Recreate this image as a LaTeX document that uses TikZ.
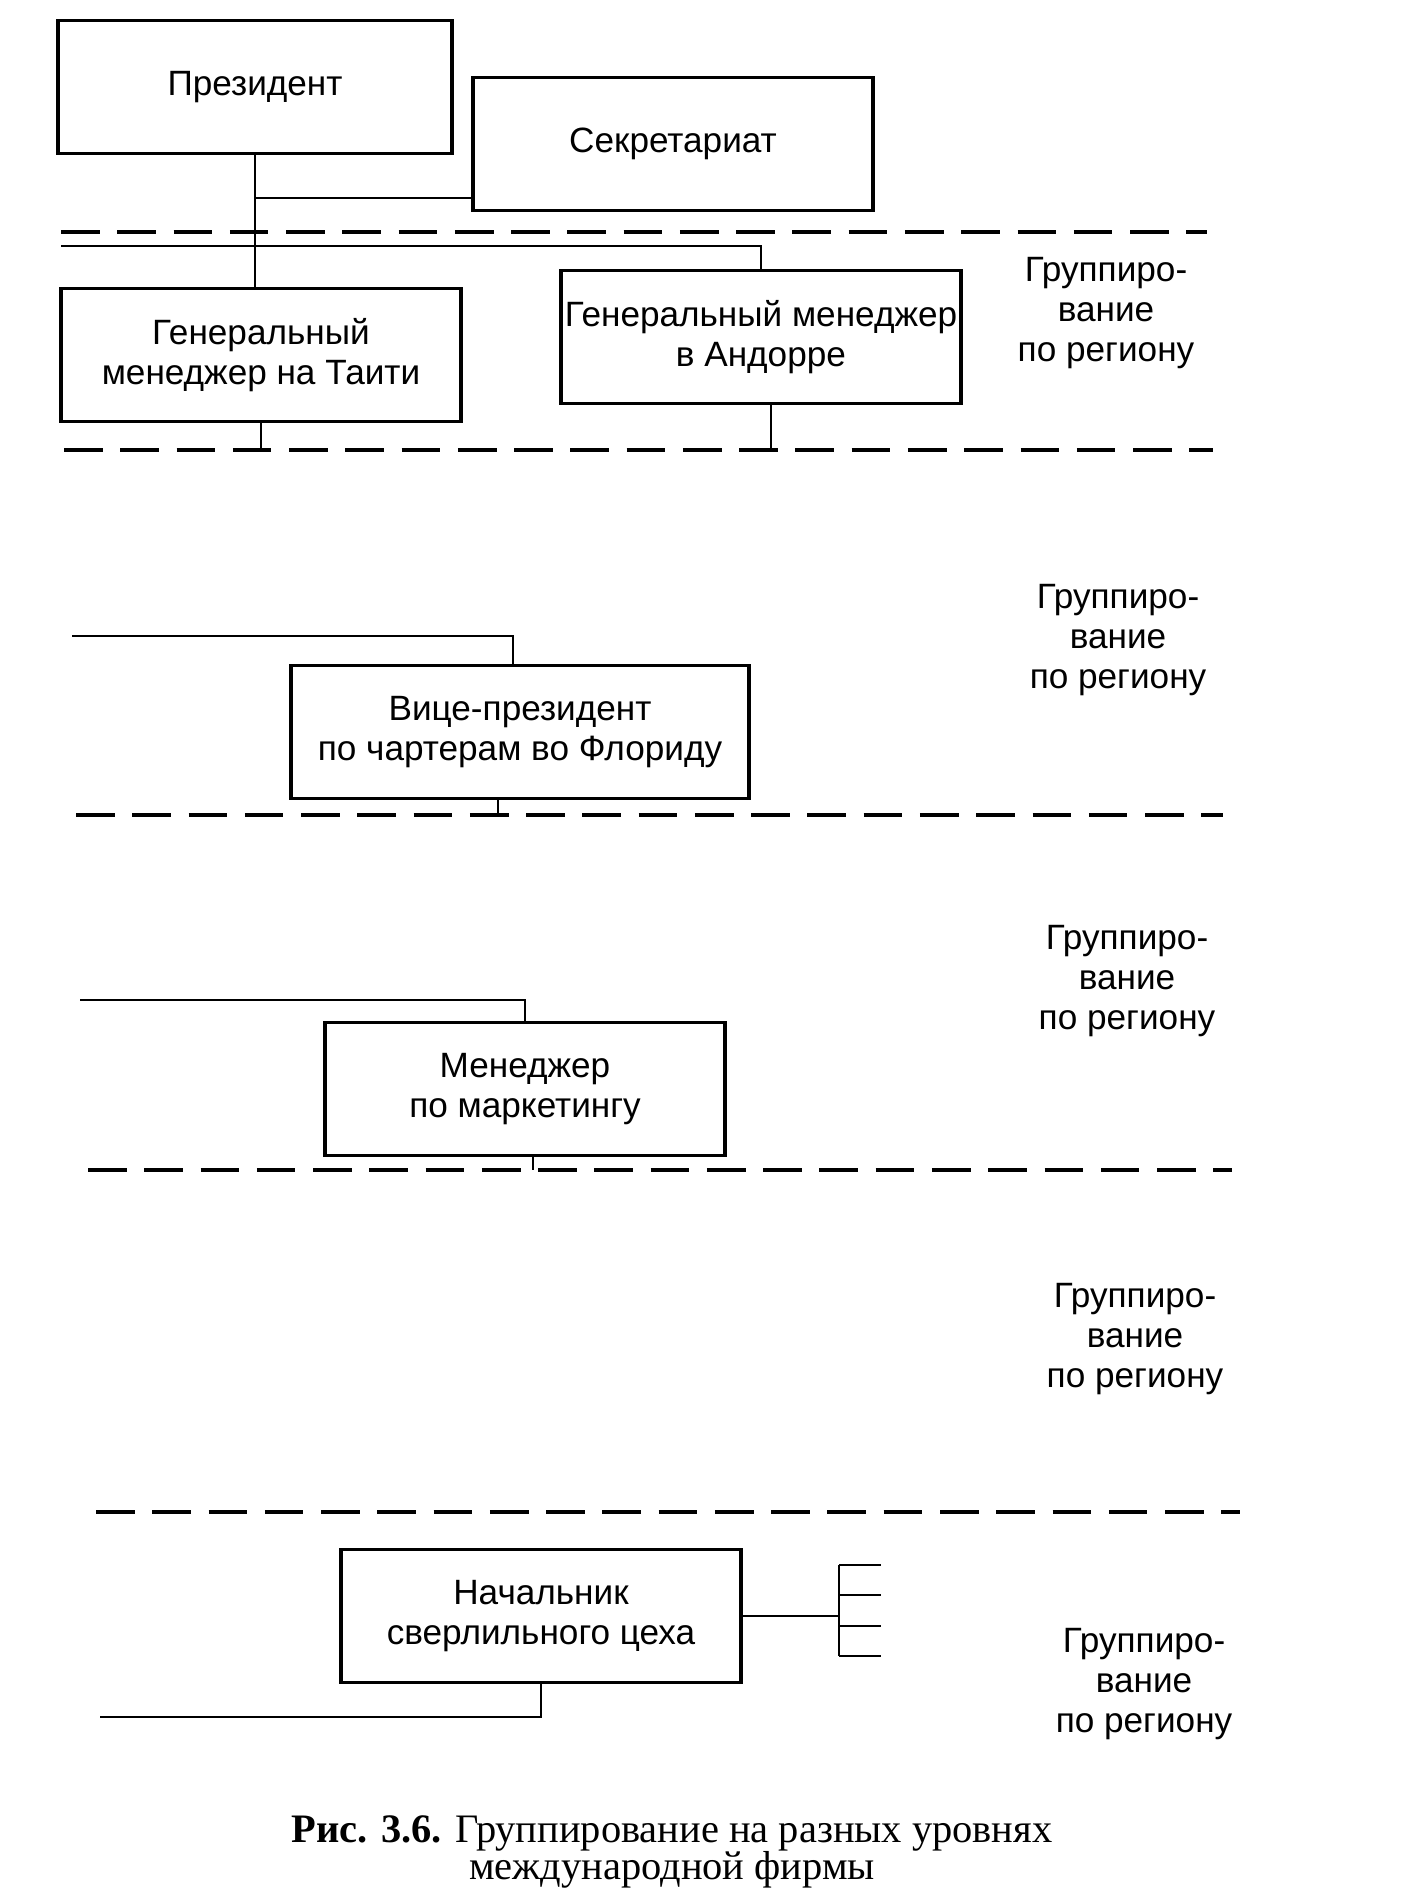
\documentclass[tikz,border=0pt]{standalone}
\usepackage{fontspec}
\setmainfont{Liberation Serif}
\setsansfont{Liberation Sans}
\tikzset{
  block/.style = {draw, line width=1pt, minimum width=4cm,
                  minimum height=1.33cm, align=center, inner sep=1pt,
                  font=\sffamily\fontsize{10}{11.4}\selectfont},
  bwide/.style = {block, minimum width=4.58cm},
  grp/.style   = {align=center, inner sep=0pt,
                  font=\sffamily\fontsize{10}{11.4}\selectfont},
  lnk/.style   = {line width=0.8pt},
  sep/.style   = {line width=0.9pt, dash pattern=on 11pt off 5pt},
  capt/.style  = {align=center, inner sep=0pt,
                  font=\fontsize{11.5}{10.5}\selectfont}
}

\begin{document}
\begin{tikzpicture}[x=0.01cm, y=-0.01cm]
  \useasboundingbox (0,0) rectangle (1419,1899);

  % top level
  \node[block, minimum width=3.94cm] (pres) at (255,87)  {Президент};
  \node[block] (sec)     at (673,144)  {Секретариат};
  \node[block] (tahiti)  at (261,355)  {Генеральный\\менеджер на Таити};
  \node[block] (andorra) at (761,337)  {Генеральный менеджер\\в Андорре};
  \node[bwide] (vp)      at (520,732)  {Вице-президент\\по чартерам во Флориду};
  \node[block] (mkt)     at (525,1089) {Менеджер\\по маркетингу};
  \node[block] (drill)   at (541,1616) {Начальник\\сверлильного цеха};

  \node[grp] (g1) at (1106,313)  {Группиро-\\вание\\по региону};
  \node[grp] (g2) at (1118,640)  {Группиро-\\вание\\по региону};
  \node[grp] (g3) at (1127,981)  {Группиро-\\вание\\по региону};
  \node[grp] (g4) at (1135,1339) {Группиро-\\вание\\по региону};
  \node[grp] (g5) at (1144,1684) {Группиро-\\вание\\по региону};

  % separators
  \coordinate (sA) at (61,232);
  \coordinate (sB) at (64,450);
  \coordinate (sC) at (76,815);
  \coordinate (sD) at (88,1170);
  \coordinate (sE) at (96,1512);
  \draw[sep] (sA) -- (1207,232);
  \draw[sep] (sB) -- (1213,450);
  \draw[sep] (sC) -- (1223,815);
  \draw[sep] (sD) -- (1232,1170);
  \draw[sep] (sE) -- (1240,1512);

  % connectors
  \coordinate (br) at (255,198);
  \coordinate (a0) at (61,246);
  \coordinate (v0) at (72,636);
  \coordinate (m0) at (80,1000);
  \coordinate (d0) at (100,1717);
  \coordinate (fork) at (839,1616);
  \draw[lnk] (pres.south) -- (pres.south |- tahiti.north);
  \draw[lnk] (br) -- (br -| sec.west);
  \draw[lnk] (a0) -| (andorra.north);
  \draw[lnk] (tahiti.south) -- (tahiti.south |- sB);
  \draw[lnk] ([xshift=0.1cm]andorra.south) -- ([xshift=0.1cm]andorra.south |- sB);
  \draw[lnk] (v0) -| ([xshift=-0.07cm]vp.north);
  \draw[lnk] ([xshift=-0.22cm]vp.south) -- ([xshift=-0.22cm]vp.south |- sC);
  \draw[lnk] (m0) -| (mkt.north);
  \draw[lnk] ([xshift=0.08cm]mkt.south) -- ([xshift=0.08cm]mkt.south |- sD);
  \draw[lnk] (drill.south) |- (d0);
  \draw[lnk] (drill.east) -- (fork);
  \draw[lnk] (839,1565) -- (839,1656);
  \foreach \y in {1565,1595,1626,1656}
    \draw[lnk] (839,\y) -- (881,\y);

  \node[capt] (cap) at (672,1852)
    {\textbf{Рис. 3.6.} Группирование на разных уровнях\\международной фирмы};
\end{tikzpicture}
\end{document}
